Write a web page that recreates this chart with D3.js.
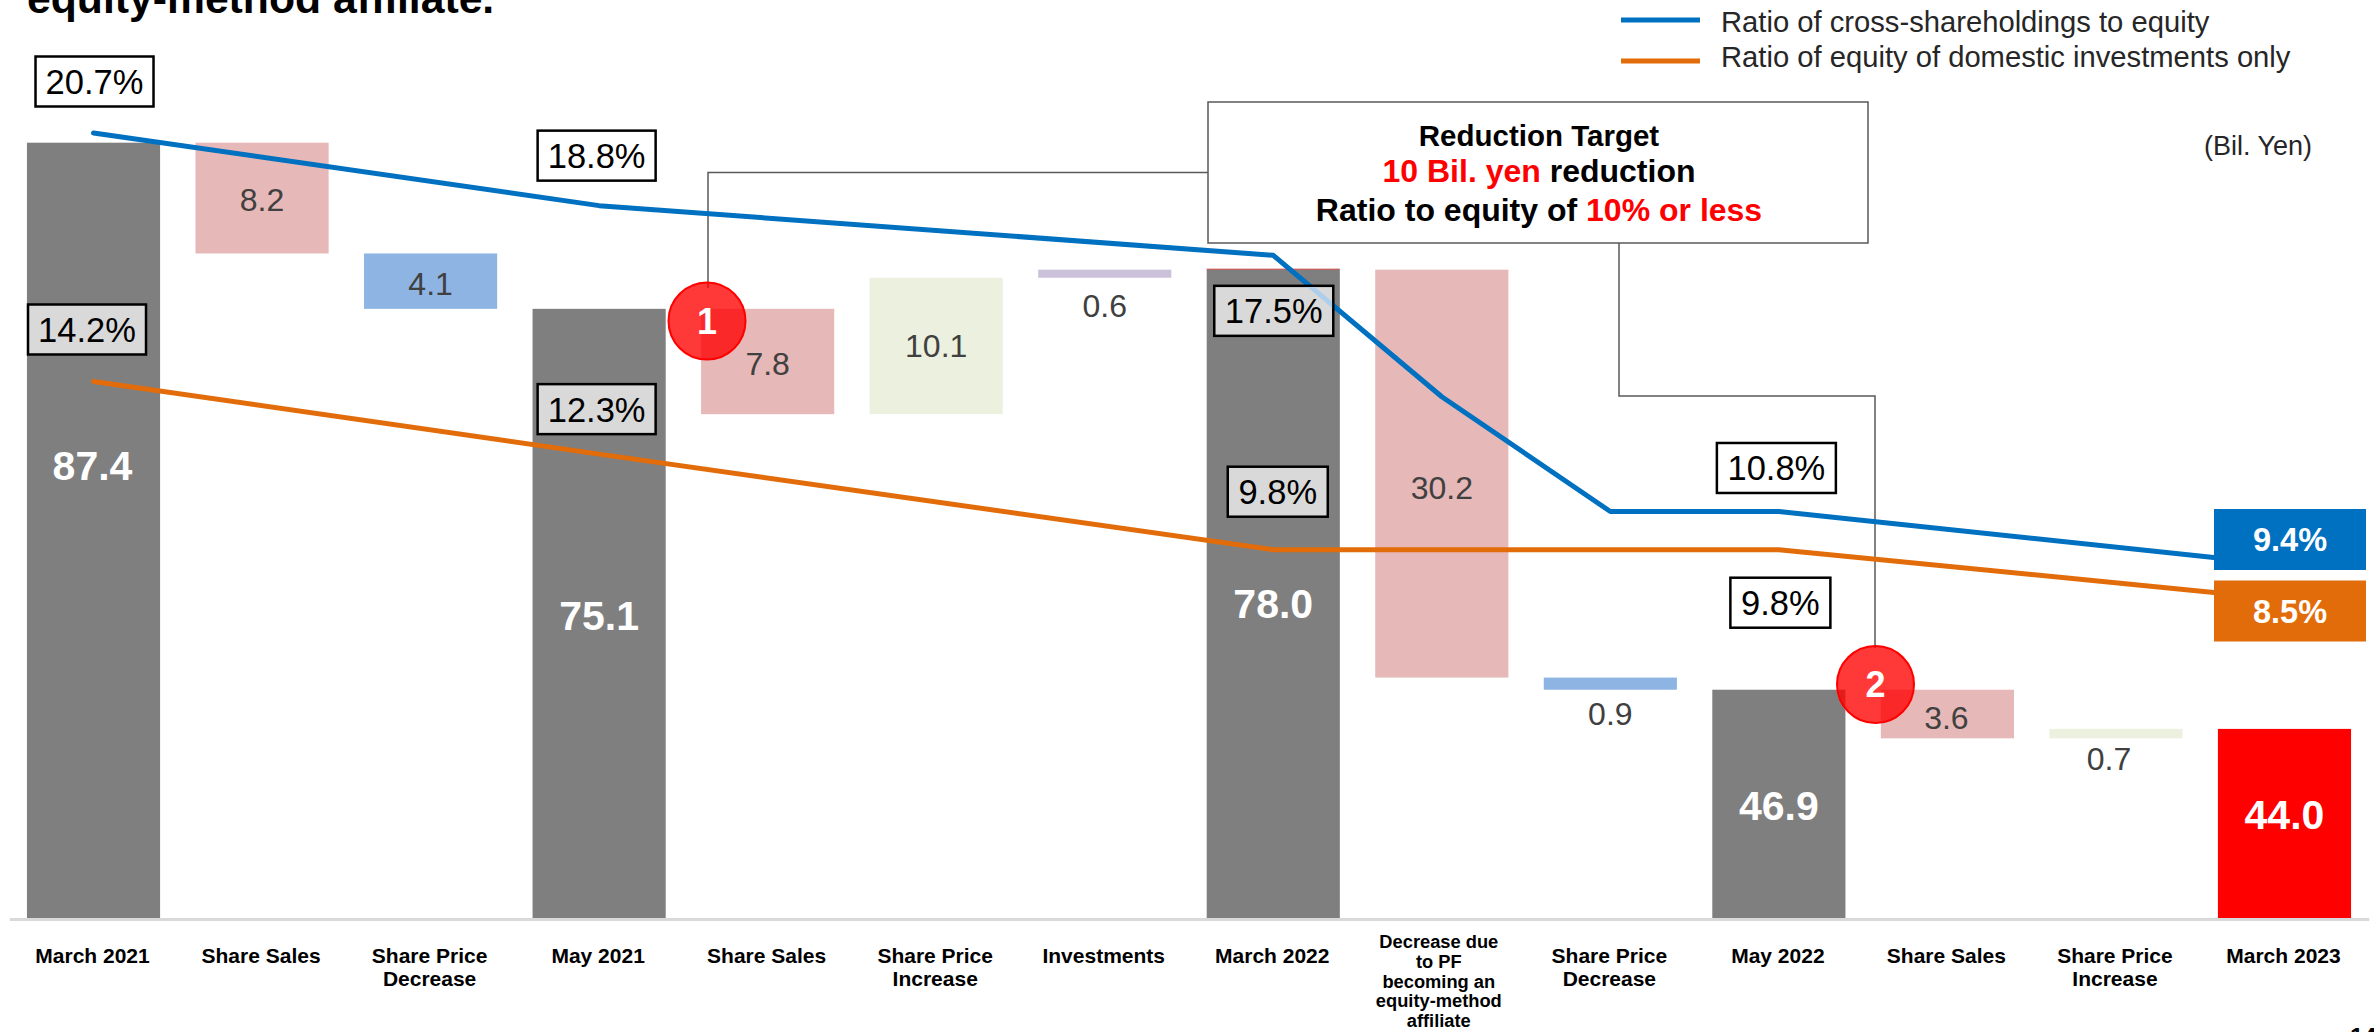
<!DOCTYPE html>
<html><head><meta charset="utf-8">
<script src="https://cdn.jsdelivr.net/npm/d3@7"></script>
<style>html,body{margin:0;padding:0;background:#fff;overflow:hidden}svg{display:block}text{font-family:"Liberation Sans",Arial,sans-serif}</style>
</head><body><svg id="c" width="2374" height="1032"></svg>
<script>
const categories=["March 2021","Share Sales","Share Price\nDecrease","May 2021","Share Sales ","Share Price\nIncrease","Investments","March 2022","Decrease due\nto PF\nbecoming an\nequity-method\naffiliate","Share Price\nDecrease ","May 2022","Share Sales  ","Share Price\nIncrease ","March 2023"];
const barValues=[87.4,8.2,4.1,75.1,7.8,10.1,0.6,78.0,30.2,0.9,46.9,3.6,0.7,44.0];
const barTypes=["total","sale","decrease","total","sale","increase","invest","total","sale","decrease","total","sale","increase","final"];
const crossRatio=[20.7,null,null,18.8,null,null,null,17.5,13.8,10.8,10.8,null,null,9.4];
const domesticRatio=[14.2,null,null,12.3,null,null,null,9.8,9.8,9.8,9.8,null,null,8.5];
const colors={total:"#7f7f7f",sale:"#e6b8b7",decrease:"#8eb4e3",increase:"#ebf1de",invest:"#ccc1da",final:"#ff0000"};
const svg=d3.select("#c");
const x=d3.scaleBand().domain(d3.range(categories.length)).range([9.25,2368.75]).paddingInner(0.21).paddingOuter(0.105);
const y=d3.scaleLinear().domain([30,87.4]).range([918,142.7]);
const r=d3.scaleLinear().domain([9.4,20.7]).range([565,133]);
const cx=i=>x(i)+x.bandwidth()/2;
// waterfall
let spans=[],lvl=0;
barValues.forEach((v,i)=>{const t=barTypes[i];
 if(t==="total"||t==="final"){spans.push([30,v]);lvl=v;}
 else if(t==="sale"||t==="decrease"){spans.push([lvl-v,lvl]);lvl-=v;}
 else{spans.push([lvl,lvl+v]);lvl+=v;}});
svg.append("g").selectAll("rect").data(spans).join("rect")
 .attr("x",(d,i)=>x(i)).attr("width",x.bandwidth())
 .attr("y",d=>y(d[1])).attr("height",d=>y(d[0])-y(d[1]))
 .attr("fill",(d,i)=>colors[barTypes[i]]);
svg.append("rect").attr("x",x(7)).attr("width",x.bandwidth()).attr("y",y(78)-1).attr("height",1.2).attr("fill","#c0504d");
// axis
const ax=svg.append("g").attr("transform","translate(0,919)").call(d3.axisBottom(x).tickSize(0).tickFormat(""));
ax.select(".domain").attr("stroke","#d9d9d9").attr("stroke-width",3);
const xl=svg.append("g");
categories.forEach((c,i)=>{const L=c.trim().split("\n"),m=L.length>2,fs=m?18.3:21,lh=m?19.8:23.3,y0=m?948:963;
 const t=xl.append("text").attr("text-anchor","middle").attr("font-weight","bold").attr("font-size",fs).attr("fill","#000");
 L.forEach((s,j)=>t.append("tspan").attr("x",cx(i)-1-(m?2:0)).attr("y",y0+j*lh).text(s));});
// value labels: offset of text centre from bar centre x and from bar top y
const lab=[[-1,323],[0,57],[0,30],[0,306],[0,55],[0,68],[0,36],[0,334],[0,218],[0,36],[0,116],[-1,28],[-7,30],[0,85]];
barValues.forEach((v,i)=>{const w=["total","final"].includes(barTypes[i]);
 svg.append("text").attr("x",cx(i)+lab[i][0]).attr("y",y(spans[i][1])+lab[i][1]).attr("dy","0.36em").attr("text-anchor","middle")
 .attr("font-size",w?41:32).attr("font-weight",w?"bold":"normal").attr("fill",w?"#fff":"#404040").text(v.toFixed(1));});
// connectors
const conn=d3.line();
svg.append("path").attr("d",conn([[1208,172.5],[708,172.5],[708,288]])).attr("fill","none").attr("stroke","#595959").attr("stroke-width",1.5);
svg.append("path").attr("d",conn([[1619,243],[1619,396],[1875,396],[1875,648]])).attr("fill","none").attr("stroke","#595959").attr("stroke-width",1.5);
// lines
const line=d3.line().x(d=>cx(d[0])).y(d=>r(d[1]));
const pts=a=>a.map((v,i)=>[i,v]).filter(d=>d[1]!==null);
[[crossRatio,"#0070c0"],[domesticRatio,"#e36c0a"]].forEach(([a,col])=>{
 svg.append("path").attr("d",line(pts(a))).attr("fill","none").attr("stroke",col).attr("stroke-width",5).attr("stroke-linecap","round").attr("stroke-linejoin","round");});
// ratio label boxes
function box(i,v,dx,dy,w,fill){const X=cx(i)+dx,Y=r(v)+dy;
 const b=svg.append("rect").attr("x",X-w/2).attr("y",Y-25).attr("width",w).attr("height",50).attr("fill",fill).attr("stroke","#000").attr("stroke-width",2.5);
 const t=svg.append("text").attr("x",X).attr("y",Y).attr("dy","0.36em").attr("text-anchor","middle").attr("font-size",34.5).attr("fill","#000").text(v.toFixed(1)+"%");
 return {b,t,X,Y,w};}
box(0,20.7,1,-51.5,118,"#fff");
box(3,18.8,-2.5,-50,118,"#fff");
box(0,14.2,-6.5,-52,118,"#d9d9d9");
box(3,12.3,-2.5,-45,118,"#d9d9d9");
const b175=box(7,17.5,0.5,55.5,119,"#d9d9d9");
svg.append("clipPath").attr("id","clip175").append("rect").attr("x",b175.X-b175.w/2+1.2).attr("y",b175.Y-23.8).attr("width",b175.w-2.4).attr("height",47.6);
svg.append("path").attr("d",line(pts(crossRatio))).attr("fill","none").attr("stroke","#aecfec").attr("stroke-width",5).attr("clip-path","url(#clip175)");
b175.t.raise();
box(7,9.8,4.5,-58,100,"#d9d9d9");
box(10,10.8,-2.5,-43.5,119,"#fff");
box(10,9.8,1.5,53,100,"#fff");
// end labels
[[9.4,"#0070c0",-25.5],[8.5,"#e36c0a",11.6]].forEach(([v,col,dy])=>{const Y=r(v)+dy;
 svg.append("rect").attr("x",2214).attr("y",Y-30.5).attr("width",152).attr("height",61).attr("fill",col);
 svg.append("text").attr("x",2290).attr("y",Y).attr("dy","0.36em").attr("text-anchor","middle").attr("font-size",32.5).attr("font-weight","bold").attr("fill","#fff").text(v.toFixed(1)+"%");});
// circles
[[707,321,"1"],[1875.5,684.5,"2"]].forEach(([a,b,s])=>{
 svg.append("circle").attr("cx",a).attr("cy",b).attr("r",38.5).attr("fill","#ff0000").attr("fill-opacity",.78).attr("stroke","#ff0000").attr("stroke-width",2);
 svg.append("text").attr("x",a).attr("y",b).attr("dy","0.36em").attr("text-anchor","middle").attr("font-size",36).attr("font-weight","bold").attr("fill","#fff").text(s);});
// target box
svg.append("rect").attr("x",1208).attr("y",102).attr("width",660).attr("height",141).attr("fill","#fff").attr("stroke","#595959").attr("stroke-width",1.5);
const tb=[[["Reduction Target","#000"]],[["10 Bil. yen","#ff0000"],[" reduction","#000"]],[["Ratio to equity of ","#000"],["10% or less","#ff0000"]]];
tb.forEach((row,i)=>{const t=svg.append("text").attr("x",1539).attr("y",[146,182,221][i]).attr("text-anchor","middle").attr("font-weight","bold").attr("font-size",i?32:29.5);
 row.forEach(([s,c])=>t.append("tspan").attr("fill",c).text(s));});
// legend
[["Ratio of cross-shareholdings to equity","#0070c0",20,32],["Ratio of equity of domestic investments only","#e36c0a",61,67]].forEach(([s,c,ly,ty])=>{
 svg.append("line").attr("x1",1621).attr("x2",1700).attr("y1",ly).attr("y2",ly).attr("stroke",c).attr("stroke-width",5);
 svg.append("text").attr("x",1721).attr("y",ty).attr("font-size",29.2).attr("fill","#262626").text(s);});
svg.append("text").attr("x",2204).attr("y",155).attr("font-size",27).attr("fill","#262626").text("(Bil. Yen)");
svg.append("text").attr("x",27).attr("y",13).attr("font-size",42.7).attr("font-weight","bold").attr("fill","#000").text("equity-method affiliate.");
svg.append("text").attr("x",2350).attr("y",1045).attr("font-size",24).attr("font-weight","bold").attr("fill","#000").text("14");
</script></body></html>
